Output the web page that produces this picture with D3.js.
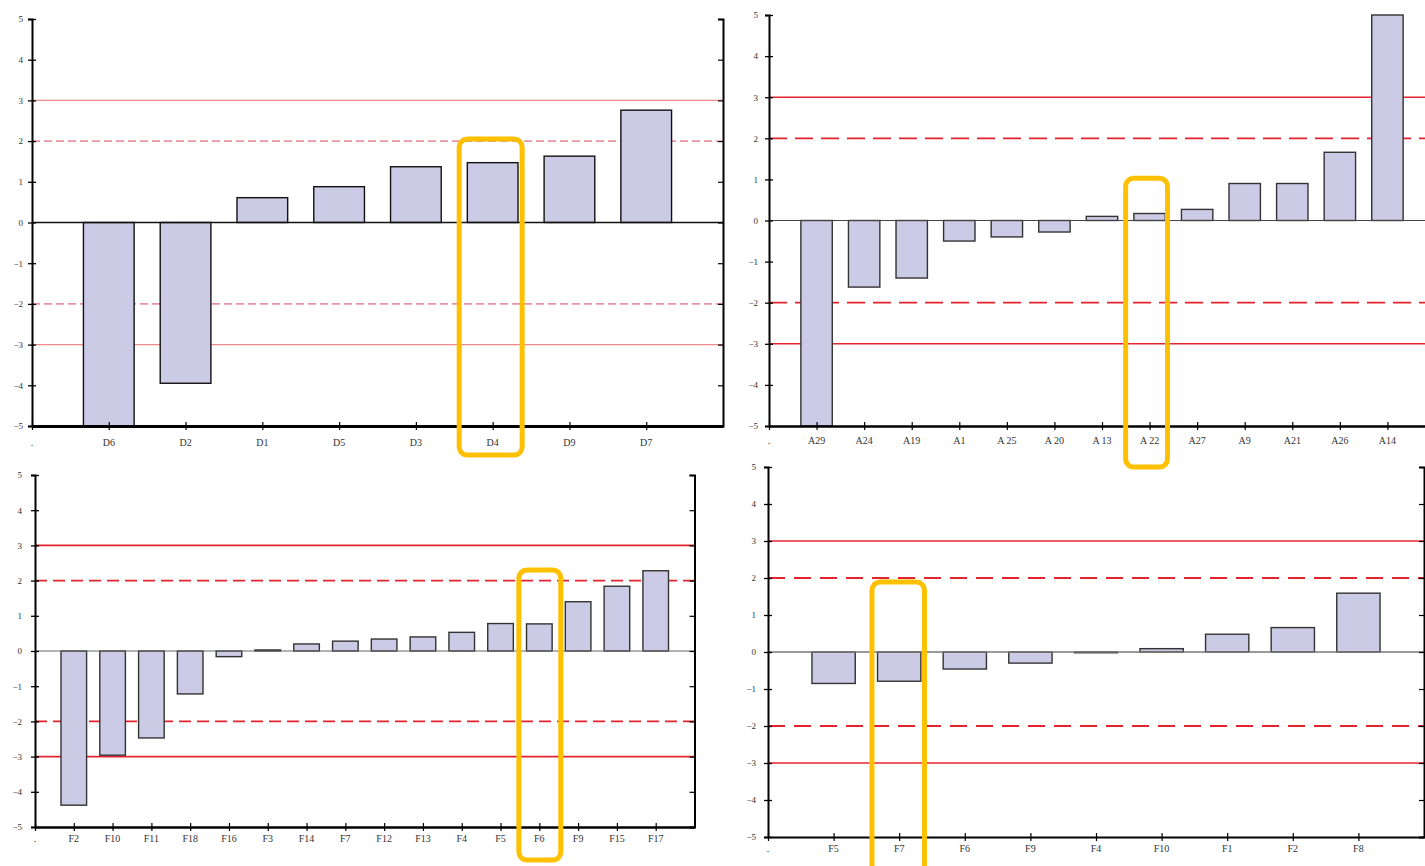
<!DOCTYPE html>
<html>
<head>
<meta charset="utf-8">
<script src="https://cdn.jsdelivr.net/npm/d3@7"></script>
<style>
  body { margin: 0; background: #fff; }
  svg { display: block; }
</style>
</head>
<body>
<svg id="chart" width="1425" height="866"></svg>
<script>
// ---- data ----
const dCategories = ["D6", "D2", "D1", "D5", "D3", "D4", "D9", "D7"];
const dValues = [-5.0, -3.95, 0.61, 0.88, 1.37, 1.47, 1.63, 2.76];

const aCategories = ["A29", "A24", "A19", "A1", "A 25", "A 20", "A 13", "A 22", "A27", "A9", "A21", "A26", "A14"];
const aValues = [-5.0, -1.62, -1.40, -0.50, -0.40, -0.28, 0.10, 0.17, 0.27, 0.90, 0.90, 1.66, 5.0];

const fCategories = ["F2", "F10", "F11", "F18", "F16", "F3", "F14", "F7", "F12", "F13", "F4", "F5", "F6", "F9", "F15", "F17"];
const fValues = [-4.38, -2.96, -2.47, -1.22, -0.16, 0.03, 0.20, 0.28, 0.34, 0.40, 0.53, 0.78, 0.77, 1.40, 1.84, 2.28];

const gCategories = ["F5", "F7", "F6", "F9", "F4", "F10", "F1", "F2", "F8"];
const gValues = [-0.85, -0.79, -0.46, -0.30, -0.02, 0.09, 0.48, 0.66, 1.59];

const yTickValues = [5, 4, 3, 2, 1, 0, -1, -2, -3, -4, -5];
const solidLimits = [3, -3];
const dashedLimits = [2, -2];
const yDomain = [-5, 5];

// ---- layout and styling of the four panels ----
const panels = [
  {
    cats: dCategories, vals: dValues,
    left: 32, right: 723, top: 19, bottom: 426,
    yLabelGap: 9, xLabelY: 446, yFont: 9, xFont: 10,
    solidColor: "#f08a8a", solidWidth: 1.3,
    dashColor: "#e8949e", dashWidth: 1.6, dash: "8,4",
    zeroColor: "#111", zeroWidth: 1.5,
    baseWidth: 3, barStroke: "#111",
    mark: { cat: "D4", top: 2.05, below: 29, widthFrac: 0.82, shift: -2 }
  },
  {
    cats: aCategories, vals: aValues,
    left: 769, right: 1435, top: 15, bottom: 426,
    yLabelGap: 11, xLabelY: 444, yFont: 9, xFont: 10,
    solidColor: "#e3242f", solidWidth: 1.6,
    dashColor: "#e3242f", dashWidth: 1.8, dash: "18,8",
    zeroColor: "#444", zeroWidth: 1.2,
    baseWidth: 2.5, barStroke: "#333",
    mark: { cat: "A 22", top: 1.03, below: 41, widthFrac: 0.88, shift: -3 }
  },
  {
    cats: fCategories, vals: fValues,
    left: 35, right: 694.5, top: 475, bottom: 827,
    yLabelGap: 13, xLabelY: 842, yFont: 9, xFont: 10,
    solidColor: "#e3242f", solidWidth: 1.6,
    dashColor: "#e3242f", dashWidth: 1.8, dash: "12,6",
    zeroColor: "#666", zeroWidth: 1,
    baseWidth: 2.5, barStroke: "#333",
    mark: { cat: "F6", top: 2.3, below: 33, widthFrac: 1.08, shift: 0.5 }
  },
  {
    cats: gCategories, vals: gValues,
    left: 768, right: 1424, top: 467, bottom: 837,
    yLabelGap: 12, xLabelY: 852, yFont: 9, xFont: 10,
    solidColor: "#e3242f", solidWidth: 1.6,
    dashColor: "#e3242f", dashWidth: 1.8, dash: "17,9",
    zeroColor: "#777", zeroWidth: 1.5,
    baseWidth: 2, barStroke: "#333",
    mark: { cat: "F7", top: 1.89, below: 36, widthFrac: 0.8, shift: -1 }
  }
];

const svg = d3.select("#chart");
const font = "'Liberation Serif', 'DejaVu Serif', serif";
const barFill = "#cbcbe6";
const highlight = "#ffc000";

panels.forEach(p => {
  const g = svg.append("g");

  // the first slot is a "." placeholder, the last an empty slot that meets the right axis
  const x = d3.scalePoint()
    .domain([".", ...p.cats, "\u0000end"])
    .range([p.left, p.right]);
  const step = x.step();
  const bw = step * 0.66;

  const y = d3.scaleLinear().domain(yDomain).range([p.bottom, p.top]);

  // limit lines
  g.selectAll("line.solid").data(solidLimits).join("line")
    .attr("x1", p.left).attr("x2", p.right)
    .attr("y1", d => y(d)).attr("y2", d => y(d))
    .attr("stroke", p.solidColor).attr("stroke-width", p.solidWidth);

  g.selectAll("line.dashed").data(dashedLimits).join("line")
    .attr("x1", p.left).attr("x2", p.right)
    .attr("y1", d => y(d)).attr("y2", d => y(d))
    .attr("stroke", p.dashColor).attr("stroke-width", p.dashWidth)
    .attr("stroke-dasharray", p.dash);

  // bars
  g.selectAll("rect.bar").data(p.cats.map((c, i) => ({ c, v: p.vals[i] }))).join("rect")
    .attr("class", "bar")
    .attr("x", d => x(d.c) - bw / 2)
    .attr("width", bw)
    .attr("y", d => y(Math.max(0, d.v)))
    .attr("height", d => Math.abs(y(d.v) - y(0)))
    .attr("fill", barFill)
    .attr("stroke", p.barStroke)
    .attr("stroke-width", 1.4);

  // zero line
  g.append("line")
    .attr("x1", p.left).attr("x2", p.right)
    .attr("y1", y(0)).attr("y2", y(0))
    .attr("stroke", p.zeroColor).attr("stroke-width", p.zeroWidth);

  // left axis with ticks crossing the line
  const leftAxis = d3.axisLeft(y).tickValues(yTickValues).tickSize(4).tickPadding(p.yLabelGap - 4)
    .tickFormat(d3.format("d"));
  const la = g.append("g").attr("transform", `translate(${p.left},0)`).call(leftAxis);
  la.select(".domain").attr("stroke", "#000").attr("stroke-width", 2);
  la.selectAll(".tick line").attr("x1", 4).attr("stroke", "#000").attr("stroke-width", 1.3);
  la.selectAll(".tick text").attr("font-family", font).attr("font-size", p.yFont).attr("fill", "#333");

  // right axis, ticks pointing inward, no labels
  const rightAxis = d3.axisLeft(y).tickValues(yTickValues).tickSize(5).tickFormat("");
  const ra = g.append("g").attr("transform", `translate(${p.right},0)`).call(rightAxis);
  ra.select(".domain").attr("stroke", "#000").attr("stroke-width", 2);
  ra.selectAll(".tick line").attr("stroke", "#000").attr("stroke-width", 1.2);

  // bottom axis at -5
  const bottomAxis = d3.axisBottom(x).tickValues([".", ...p.cats]).tickSize(4).tickSizeOuter(0).tickFormat("");
  const ba = g.append("g").attr("transform", `translate(0,${p.bottom})`).call(bottomAxis);
  ba.select(".domain").attr("stroke", "#000").attr("stroke-width", p.baseWidth);
  ba.selectAll(".tick line").attr("y1", -4).attr("stroke", "#000").attr("stroke-width", 1.2);

  // category labels
  g.selectAll("text.cat").data([".", ...p.cats]).join("text")
    .attr("class", "cat")
    .attr("x", d => x(d))
    .attr("y", p.xLabelY)
    .attr("text-anchor", "middle")
    .attr("font-family", font)
    .attr("font-size", p.xFont)
    .attr("fill", "#333")
    .text(d => d);

  // highlighted category
  const m = p.mark;
  const mw = step * m.widthFrac;
  g.append("rect")
    .attr("x", x(m.cat) + m.shift - mw / 2)
    .attr("width", mw)
    .attr("y", y(m.top))
    .attr("height", p.bottom + m.below - y(m.top))
    .attr("rx", 8).attr("ry", 8)
    .attr("fill", "none")
    .attr("stroke", highlight)
    .attr("stroke-width", 5);
});
</script>
</body>
</html>
